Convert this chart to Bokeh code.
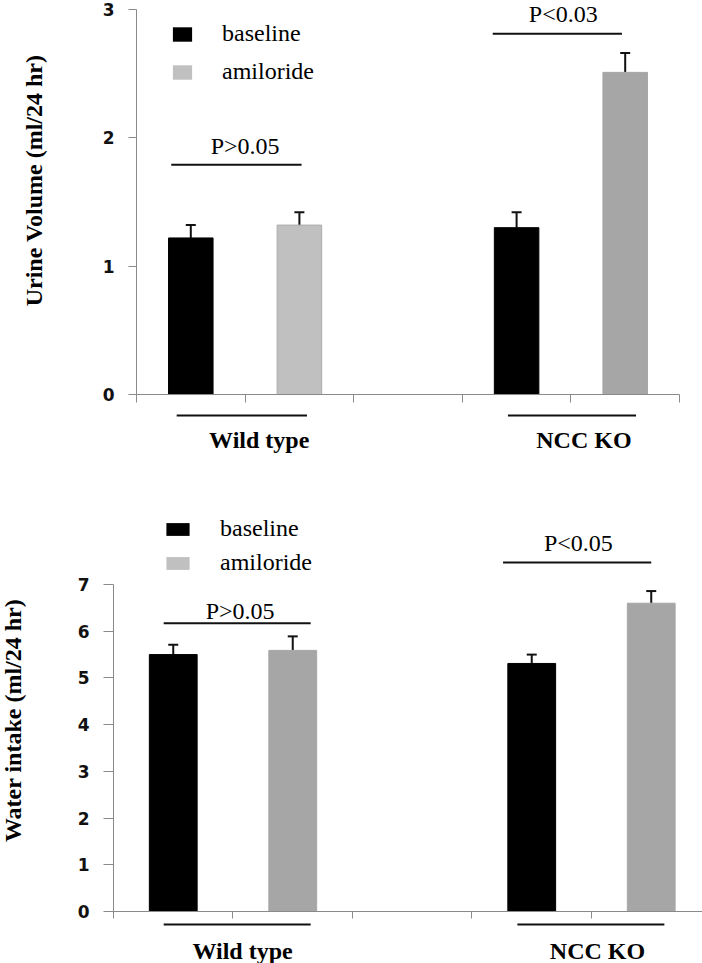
from bokeh.plotting import figure
from bokeh.layouts import column
from bokeh.models import (ColumnDataSource, FixedTicker, Whisker, TeeHead, Legend,
                          LegendItem, Range1d, Label, CustomLabelingPolicy)
from bokeh.core.properties import value
from bokeh.embed import file_html
from bokeh.resources import INLINE

# ---------------- data ----------------
groups = ["Wild type", "NCC KO"]
conditions = ["baseline", "amiloride"]

urine_baseline = [1.22, 1.30]
urine_baseline_err = [0.10, 0.12]
urine_amiloride = [1.32, 2.51]
urine_amiloride_err = [0.10, 0.15]
urine_p = ["P>0.05", "P<0.03"]

water_baseline = [5.50, 5.31]
water_baseline_err = [0.21, 0.19]
water_amiloride = [5.59, 6.60]
water_amiloride_err = [0.30, 0.26]
water_p = ["P>0.05", "P<0.05"]

urine_ticks = [0, 1, 2, 3]
water_ticks = [0, 1, 2, 3, 4, 5, 6, 7]

SERIF = "Liberation Serif"
SANS = "DejaVu Sans"
AXIS_GREY = "#8a8a8a"
INK = "#111111"

NO_LABELS = CustomLabelingPolicy(code="""
const r = indices.clone()
for (let i = 0; i < r.size; i++) { r.unset(i) }
return r
""")


def make_chart(cfg):
    n_slots = 3 * len(groups) - 1
    base_x = [3 * g + 0.5 for g in range(len(groups))]
    amil_x = [3 * g + 1.5 for g in range(len(groups))]
    gstart = [3 * g for g in range(len(groups))]

    p = figure(width=cfg["width"], height=cfg["height"], output_backend="svg",
               toolbar_location=None,
               x_range=Range1d(cfg["x_start"], cfg["x_end"]),
               y_range=Range1d(cfg["y_start"], cfg["y_end"]),
               min_border_left=0, min_border_right=0,
               min_border_top=0, min_border_bottom=0)
    p.outline_line_color = None
    p.xgrid.visible = False
    p.ygrid.visible = False

    # y axis placed at x = 0
    p.yaxis.fixed_location = 0
    p.yaxis.ticker = FixedTicker(ticks=cfg["yticks"])
    p.yaxis.bounds = (cfg["yticks"][0], cfg["yticks"][-1])
    p.yaxis.axis_line_color = AXIS_GREY
    p.yaxis.major_tick_line_color = AXIS_GREY
    p.yaxis.major_tick_out = cfg["ytick_out"]
    p.yaxis.major_tick_in = 0
    p.yaxis.minor_tick_line_color = None
    p.yaxis.major_label_text_font = SANS
    p.yaxis.major_label_text_font_style = "bold"
    p.yaxis.major_label_text_font_size = "17px"
    p.yaxis.major_label_text_color = INK
    p.yaxis.major_label_standoff = 14

    # x axis at y = 0, ticks at slot boundaries, no labels
    p.xaxis.fixed_location = 0
    p.xaxis.ticker = FixedTicker(ticks=list(range(0, n_slots + 1)))
    p.xaxis.bounds = (0, n_slots)
    p.xaxis.axis_line_color = AXIS_GREY
    p.xaxis.major_tick_line_color = AXIS_GREY
    p.xaxis.major_tick_out = cfg["xtick_out"]
    p.xaxis.major_tick_in = 0
    p.xaxis.minor_tick_line_color = None
    p.xaxis.major_label_policy = NO_LABELS

    # y axis title
    p.add_layout(Label(x=cfg["ylab_x"], y=cfg["ylab_y"],
                       text=cfg["ylabel"], angle=90, angle_units="deg",
                       text_align="center", text_baseline="middle",
                       text_font=SERIF, text_font_style="bold", text_font_size="24px",
                       text_color="black"))

    # bars
    src_b = ColumnDataSource(dict(x=base_x, top=cfg["base"],
                                  upper=[v + e for v, e in zip(cfg["base"], cfg["base_err"])]))
    src_a = ColumnDataSource(dict(x=amil_x, top=cfg["amil"],
                                  upper=[v + e for v, e in zip(cfg["amil"], cfg["amil_err"])],
                                  fill=cfg["amil_colors"], line=cfg["amil_lines"]))
    p.vbar(x="x", top="top", width=cfg["bar_w"], source=src_b,
           fill_color="black", line_color="black")
    p.vbar(x="x", top="top", width=cfg["bar_w"], source=src_a,
           fill_color="fill", line_color="line")

    for src in (src_b, src_a):
        p.add_layout(Whisker(base="x", lower="top", upper="upper", source=src,
                             dimension="height", line_color=INK, line_width=2,
                             upper_head=TeeHead(size=10, line_color=INK, line_width=2),
                             lower_head=None))

    # legend swatches (zero-height helper bars carrying the legend colours)
    r_leg_b = p.vbar(x=base_x[:1], top=cfg["yticks"][:1], width=cfg["bar_w"],
                     fill_color="black", line_alpha=0)
    r_leg_a = p.vbar(x=amil_x[:1], top=cfg["yticks"][:1], width=cfg["bar_w"],
                     fill_color="#c0c0c0", line_alpha=0)
    legend = Legend(items=[LegendItem(label=conditions[0], renderers=[r_leg_b]),
                           LegendItem(label=conditions[1], renderers=[r_leg_a])],
                    location=cfg["legend_loc"], orientation="vertical",
                    glyph_width=cfg["glyph_w"], glyph_height=cfg["glyph_h"],
                    label_standoff=cfg["label_gap"], spacing=cfg["leg_spacing"],
                    label_height=cfg["glyph_h"],
                    padding=0, margin=0, border_line_color=None,
                    background_fill_alpha=0,
                    label_text_font=SERIF, label_text_font_size="24px",
                    label_text_color="black")
    p.add_layout(legend, "center")

    # significance bars
    sig = ColumnDataSource(dict(x0=[s + a for s, a in zip(gstart, cfg["sig_x0"])],
                                x1=[s + a for s, a in zip(gstart, cfg["sig_x1"])],
                                y=cfg["sig_y"],
                                tx=[s + a for s, a in zip(gstart, cfg["sig_tx"])],
                                ty=cfg["sig_ty"], txt=cfg["pvals"]))
    p.segment(x0="x0", y0="y", x1="x1", y1="y", source=sig, line_color=INK, line_width=2)
    p.text(x="tx", y="ty", text="txt", source=sig, text_font=value(SERIF),
           text_font_size="24px", text_align="center", text_baseline="middle",
           text_color="black")

    # group underlines and labels
    grp = ColumnDataSource(dict(x0=[s + a for s, a in zip(gstart, cfg["ul_x0"])],
                                x1=[s + a for s, a in zip(gstart, cfg["ul_x1"])],
                                y=[cfg["ul_y"]] * len(groups),
                                tx=[s + a for s, a in zip(gstart, cfg["gl_x"])],
                                ty=[cfg["gl_y"]] * len(groups), txt=groups))
    p.segment(x0="x0", y0="y", x1="x1", y1="y", source=grp, line_color=INK, line_width=2)
    p.text(x="tx", y="ty", text="txt", source=grp, text_font=value(SERIF),
           text_font_size="24px", text_font_style="bold", text_align="center",
           text_baseline="middle", text_color="black")
    return p


top_cfg = dict(
    width=702, height=470, x_start=-1.2523, x_end=5.2118,
    y_start=-0.592, y_end=3.070, yticks=urine_ticks, ytick_out=8, xtick_out=8,
    ylabel="Urine Volume (ml/24 hr)", ylab_x=-0.948, ylab_y=1.668,
    base=urine_baseline, base_err=urine_baseline_err,
    amil=urine_amiloride, amil_err=urine_amiloride_err,
    amil_colors=["#c0c0c0", "#a6a6a6"], amil_lines=["#ababab", "#a6a6a6"],
    bar_w=0.41,
    legend_loc=(170, 385), glyph_w=24, glyph_h=18, label_gap=28, leg_spacing=11,
    sig_x0=[0.32, 0.28], sig_x1=[1.52, 1.47], sig_y=[1.79, 2.81],
    sig_tx=[1.0, 0.93], sig_ty=[1.94, 2.965], pvals=urine_p,
    ul_x0=[0.37, 0.42], ul_x1=[1.57, 1.60], ul_y=-0.164,
    gl_x=[1.13, 1.12], gl_y=-0.358,
)

bot_cfg = dict(
    width=702, height=493, x_start=-0.9456, x_end=4.929,
    y_start=-1.113, y_end=9.441, yticks=water_ticks, ytick_out=10, xtick_out=7,
    ylabel="Water intake (ml/24 hr)", ylab_x=-0.845, ylab_y=4.09,
    base=water_baseline, base_err=water_baseline_err,
    amil=water_amiloride, amil_err=water_amiloride_err,
    amil_colors=["#a6a6a6", "#a6a6a6"], amil_lines=["#a6a6a6", "#a6a6a6"],
    bar_w=0.40,
    legend_loc=(163, 387), glyph_w=29, glyph_h=16, label_gap=28, leg_spacing=7,
    sig_x0=[0.42, 0.26], sig_x1=[1.65, 1.50], sig_y=[6.17, 7.47],
    sig_tx=[1.06, 0.89], sig_ty=[6.44, 7.88], pvals=water_p,
    ul_x0=[0.42, 0.38], ul_x1=[1.65, 1.61], ul_y=-0.28,
    gl_x=[1.08, 1.05], gl_y=-0.835,
)

p1 = make_chart(top_cfg)
p2 = make_chart(bot_cfg)
layout = column(p1, p2, spacing=0)

open("out.html", "w").write(file_html(layout, INLINE))
